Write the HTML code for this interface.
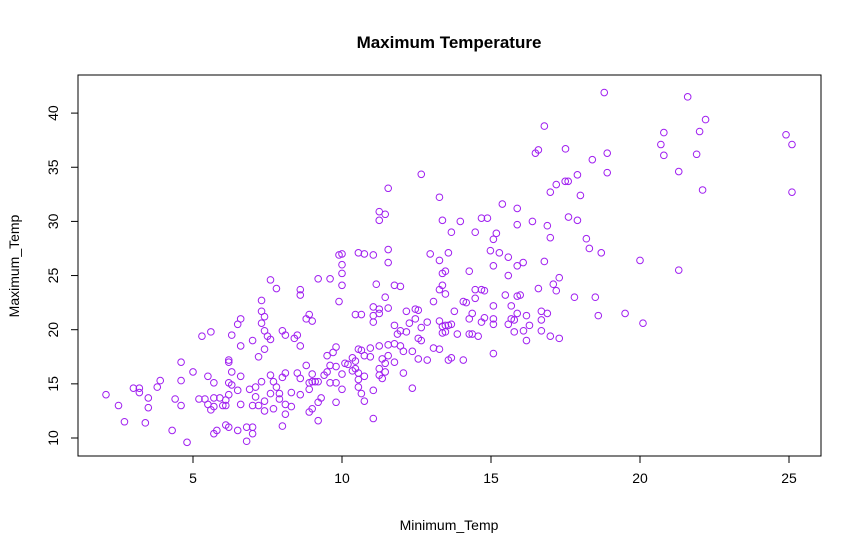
<!DOCTYPE html>
<html><head><meta charset="utf-8"><style>
body{margin:0;background:#fff}
svg{display:block;font-family:"Liberation Sans",Arial,sans-serif}
</style></head><body>
<svg id="chart" width="861" height="554" viewBox="0 0 861 554" xmlns="http://www.w3.org/2000/svg">
<rect width="861" height="554" fill="#fff"/>
<text x="449" y="48" text-anchor="middle" font-size="17" font-weight="bold">Maximum Temperature</text>
<text x="449" y="530" text-anchor="middle" font-size="14">Minimum_Temp</text>
<text transform="translate(19,266) rotate(-90)" text-anchor="middle" font-size="14">Maximum_Temp</text>
<rect x="78" y="75" width="743" height="381" fill="none" stroke="#000" stroke-width="1"/>
<g id="axes"></g>
<g id="points"></g>
</svg>
<script>
const xTicks=[5,10,15,20,25];
const yTicks=[10,15,20,25,30,35,40];
const minTemp=[2.08,2.5,2.7,3.0,3.2,3.2,3.5,3.5,3.4,3.8,3.9,4.3,4.4,4.6,4.6,4.6,4.8,5.0,5.2,5.3,5.4,5.5,5.5,5.6,5.6,5.7,5.7,5.7,5.7,5.8,5.9,6.0,6.1,6.1,6.1,6.2,6.2,6.2,6.2,6.2,6.3,6.3,6.3,6.5,6.6,6.6,6.6,6.5,6.6,6.5,6.8,6.8,7.0,6.9,7.0,7.0,7.0,7.1,7.1,7.2,7.2,7.3,7.3,7.3,7.4,7.4,7.4,7.3,7.4,7.4,7.5,7.6,7.6,7.6,7.6,7.7,7.7,7.8,7.8,7.9,7.9,8.0,8.0,8.0,8.1,8.1,8.1,8.1,8.3,8.3,8.4,8.5,8.5,8.6,8.6,8.6,8.6,8.6,8.8,8.9,8.8,9.0,9.0,8.9,8.9,9.0,9.1,9.2,8.9,9.0,9.2,9.2,9.2,9.3,9.4,9.5,9.5,9.6,9.6,9.6,9.7,9.8,9.8,9.8,9.8,9.9,10.0,10.0,10.0,10.0,9.9,10.0,10.0,10.1,
12.66,11.55,13.27,11.25,11.45,11.25,13.37,13.97,13.67,14.47,14.68,14.88,15.38,15.88,15.88,16.39,16.89,16.99,17.19,17.49,17.59,17.9,18.0,17.6,17.9,18.2,18.3,16.99,15.08,15.18,14.98,15.28,15.58,16.08,15.88,15.08,15.58,16.79,17.29,17.09,17.19,16.59,17.8,15.98,15.88,15.48,15.68,15.08,14.78,14.68,14.47,14.47,14.27,12.96,13.27,13.57,13.47,13.37,13.37,13.27,13.47,13.07,14.07,14.17,11.55,11.55,11.05,10.75,10.55,11.15,11.76,11.96,11.45,11.05,11.25,11.25,11.05,11.05,11.55,10.65,10.45,12.16,12.46,12.56,12.46,12.26,11.76,11.96,11.86,12.16,12.66,12.86,13.27,13.37,13.47,13.57,13.67,13.37,13.47,13.87,13.77,14.27,14.37,14.27,14.37,14.57,14.68,14.78,15.08,15.08,15.58,15.68,15.78,15.78,15.88,16.19,16.29,16.09,16.19,16.69,16.89,16.69,16.69,16.99,17.29,15.08,12.56,12.66,13.07,13.27,12.36,12.06,11.96,11.76,11.55,11.25,10.95,10.65,10.55,10.75,10.95,11.35,11.55,11.76,11.45,11.25,11.45,11.25,11.35,12.06,12.36,12.56,12.86,13.57,13.67,14.07,10.35,10.45,10.45,10.55,10.55,10.55,10.65,10.75,10.75,11.05,11.05,10.35,10.2,
18.8,21.6,22.2,20.8,22.0,20.7,20.8,21.9,21.3,22.1,24.9,25.1,25.1,18.9,18.4,18.9,18.7,20.0,21.3,18.5,18.6,19.5,20.1,16.79,16.59,16.49,17.5];
const maxTemp=[14.0,13.0,11.5,14.6,14.6,14.2,13.7,12.8,11.4,14.7,15.3,10.7,13.6,13.0,15.3,17.0,9.6,16.1,13.6,19.4,13.6,15.7,13.1,19.8,12.6,15.1,13.7,12.9,10.4,10.7,13.7,13.0,13.5,13.0,11.2,17.2,17.0,15.1,14.0,11.0,19.5,16.1,14.9,20.5,21.0,18.5,15.7,14.4,13.1,10.7,11.0,9.7,19.0,14.5,13.0,11.0,10.4,14.7,13.8,17.5,13.0,22.7,21.7,20.6,21.2,19.9,18.2,15.2,13.4,12.5,19.4,24.6,19.1,15.8,14.1,15.2,12.7,23.8,14.7,13.6,14.1,19.9,15.6,11.1,19.5,16.0,13.1,12.2,14.2,12.9,19.2,19.5,16.0,23.7,23.2,18.5,15.5,14.0,16.7,21.4,21.0,20.8,15.9,15.1,14.5,15.2,15.2,15.2,12.4,12.7,11.6,24.7,13.3,13.7,15.8,17.6,16.1,24.7,15.1,16.7,17.9,18.4,16.6,15.1,13.3,26.9,27.0,26.0,25.2,24.1,22.6,15.9,14.5,16.9,
34.35,33.06,32.23,30.9,30.66,30.1,30.1,30.0,29.0,29.0,30.3,30.3,31.6,31.2,29.7,30.0,29.6,32.7,33.4,33.7,33.7,34.3,32.4,30.4,30.1,28.4,27.5,28.5,28.35,28.9,27.3,27.1,26.7,26.2,25.9,25.9,25.0,26.3,24.8,24.2,23.6,23.8,23.0,23.2,23.1,23.2,22.2,22.2,23.6,23.7,23.7,22.9,25.4,27.0,26.4,27.1,25.4,25.2,24.1,23.7,23.3,22.6,22.6,22.5,27.4,26.2,26.9,27.0,27.1,24.2,24.1,24.0,23.0,22.1,21.9,21.5,21.3,20.7,22.0,21.4,21.4,21.7,21.9,21.8,21.0,20.6,20.4,19.9,19.6,19.8,20.2,20.7,20.8,20.3,20.4,20.4,20.5,19.7,19.8,19.6,21.7,21.0,21.5,19.6,19.6,19.4,20.7,21.1,21.0,20.5,20.5,21.0,20.9,19.8,21.5,21.3,20.4,19.9,19.0,21.7,21.5,20.9,19.9,19.4,19.2,17.8,19.2,19.0,18.3,18.2,18.0,18.0,18.5,18.7,18.6,18.5,18.3,18.1,18.2,17.6,17.5,17.3,17.6,17.0,16.9,16.4,16.1,15.8,15.5,16.0,14.6,17.3,17.2,17.2,17.4,17.2,17.4,17.1,16.4,16.0,15.4,14.7,14.1,15.7,13.4,14.4,11.8,16.2,16.8,
41.9,41.5,39.4,38.2,38.3,37.1,36.1,36.2,34.6,32.9,38.0,37.1,32.7,36.3,35.7,34.5,27.1,26.4,25.5,23.0,21.3,21.5,20.6,38.8,36.6,36.3,36.7];

const NS="http://www.w3.org/2000/svg";
const X=v=>193+(v-5)*29.8;
const Y=v=>438-(v-10)*10.83;
const axes=document.getElementById('axes');
const pts=document.getElementById('points');
function mk(tag,attrs,parent){const e=document.createElementNS(NS,tag);for(const k in attrs)e.setAttribute(k,attrs[k]);parent.appendChild(e);return e;}
const xl=mk('line',{x1:X(xTicks[0]),x2:X(xTicks[xTicks.length-1]),y1:456,y2:456,stroke:'#000'},axes);


xTicks.forEach(t=>{
  const l=mk('line',{x1:X(t),x2:X(t),y1:456,y2:463,stroke:'#000'},axes);
  
  
  const tx=mk('text',{x:X(t),y:483,'text-anchor':'middle','font-size':'14'},axes);
  tx.textContent=t;
  
  
});
const yl=mk('line',{x1:78,x2:78,y1:Y(yTicks[0]),y2:Y(yTicks[yTicks.length-1]),stroke:'#000'},axes);


yTicks.forEach(t=>{
  const l=mk('line',{x1:71,x2:78,y1:Y(t),y2:Y(t),stroke:'#000'},axes);
  
  
  const tx=mk('text',{transform:`translate(58,${Y(t)}) rotate(-90)`,'text-anchor':'middle','font-size':'14'},axes);
  tx.textContent=t;
  
  
});
minTemp.forEach((v,i)=>{
  const c=mk('circle',{cx:X(v),cy:Y(maxTemp[i]),r:3.3,fill:'none',stroke:'#a020f0','stroke-width':1},pts);
  
  
});
</script>
</body></html>
